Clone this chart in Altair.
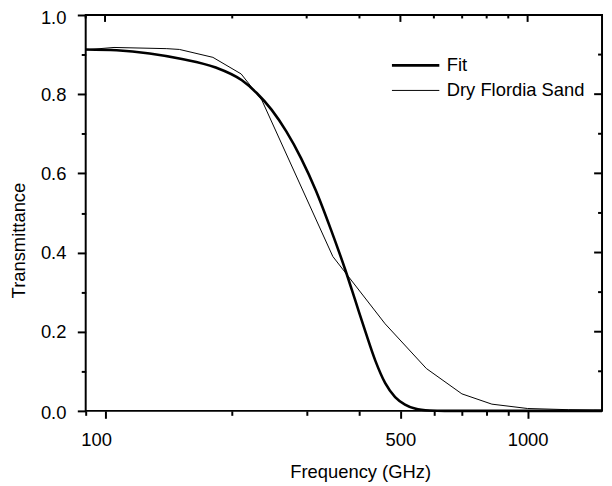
import altair as alt
import pandas as pd

# ---- data ----
fit_freq = [90, 106.5, 127.5, 152, 182, 210.8, 228.5, 247.7, 268.5, 291.1, 315.6,
            342.1, 370.9, 391.5, 413.2, 436.1, 460.3, 485.8, 512.7, 541.1, 586.7,
            636, 800, 1000, 1500]
fit_trans = [0.913, 0.911, 0.903, 0.889, 0.868, 0.835, 0.803, 0.761, 0.706, 0.638,
             0.556, 0.459, 0.354, 0.277, 0.200, 0.127, 0.070, 0.035, 0.016, 0.006,
             0.001, 0.0, 0.0, 0.0, 0.0]
sand_freq = [90, 105, 140, 150, 180, 210, 235, 346, 460, 576, 699, 823, 1000, 1250, 1500]
sand_trans = [0.912, 0.918, 0.915, 0.913, 0.893, 0.851, 0.785, 0.390, 0.220, 0.107,
              0.043, 0.017, 0.006, 0.003, 0.002]

series_names = ["Fit", "Dry Flordia Sand"]

x_major = [100, 500, 1000]
x_minor = [90, 200, 300, 400, 600, 700, 800, 900]
y_major = [0.0, 0.2, 0.4, 0.6, 0.8, 1.0]
y_minor = [0.1, 0.3, 0.5, 0.7, 0.9]

# ---- tables ----
fit_df = pd.DataFrame({"f": fit_freq, "T": fit_trans, "series": series_names[0]})
sand_df = pd.DataFrame({"f": sand_freq, "T": sand_trans, "series": series_names[1]})
xmaj_df = pd.DataFrame({"f": x_major})
xmin_df = pd.DataFrame({"f": x_minor})
ymaj_df = pd.DataFrame({"T": y_major})
ymin_df = pd.DataFrame({"T": y_minor})

W, H = 523, 401
FONT = "Liberation Sans"
FS = 18.6

xscale = alt.Scale(type="log", domain=[90, 1500], nice=False)
yscale = alt.Scale(domain=[0, 1], nice=False)

x_axis = alt.Axis(
    values=x_major + x_minor,
    labelExpr="datum.value == 100 ? '100' : datum.value == 500 ? '500' : datum.value == 1000 ? '1000' : ''",
    tickSize={"condition": {"test": "indexof([100,500,1000], datum.value) >= 0", "value": 7.5}, "value": 4.5},
    labelOffset={"condition": {"test": "datum.value == 100", "value": -9}, "value": 0},
    labelPadding=12.5,
    labelOverlap=False,
    labelFlush=False,
    domain=False,
    grid=False,
    tickWidth=2,
    tickColor="black",
    labelColor="black",
    labelFont=FONT,
    labelFontSize=FS,
    title="Frequency (GHz)",
    titleFont=FONT,
    titleFontSize=FS,
    titleFontWeight="normal",
    titleColor="black",
    titleX=278,
    titleY=67.5,
    titleAlign="center",
    titleBaseline="alphabetic",
)

y_axis = alt.Axis(
    values=y_major + y_minor,
    labelExpr="indexof([0,0.2,0.4,0.6,0.8,1], datum.value) >= 0 ? format(datum.value, '.1f') : ''",
    tickSize={"condition": {"test": "indexof([0,0.2,0.4,0.6,0.8,1], datum.value) >= 0", "value": 8.5}, "value": 4.5},
    labelOffset={"condition": [{"test": "datum.value == 1", "value": 3},
                               {"test": "datum.value == 0", "value": 2}], "value": 0},
    labelPadding=11.5,
    labelOverlap=False,
    labelFlush=False,
    domain=False,
    grid=False,
    tickWidth=2,
    tickColor="black",
    labelColor="black",
    labelFont=FONT,
    labelFontSize=FS,
    title="Transmittance",
    titleFont=FONT,
    titleFontSize=FS,
    titleFontWeight="normal",
    titleColor="black",
    titleAngle=270,
    titleX=-62,
    titleY=228,
    titleAlign="center",
    titleBaseline="alphabetic",
)

sw_scale = alt.Scale(domain=series_names, range=[2.6, 1.0])
legend = alt.Legend(
    orient="none",
    legendX=308.7,
    legendY=41.5,
    title=None,
    symbolType="stroke",
    symbolSize=2304,
    symbolStrokeColor="black",
    labelFont=FONT,
    labelFontSize=FS,
    labelColor="black",
    labelOffset=6,
    clipHeight=19,
    rowPadding=5.4,
    padding=0,
)

X = alt.X("f:Q", scale=xscale, axis=x_axis)
Y = alt.Y("T:Q", scale=yscale, axis=y_axis)

fit_line = alt.Chart(fit_df).mark_line(color="black", interpolate="monotone").encode(
    x=X, y=Y,
    strokeWidth=alt.StrokeWidth("series:N", scale=sw_scale, legend=legend),
)

sand_line = alt.Chart(sand_df).mark_line(color="black").encode(
    x=X, y=Y,
    strokeWidth=alt.StrokeWidth("series:N", scale=sw_scale, legend=legend),
)

# mirrored inward ticks on top and right edges
top_major = alt.Chart(xmaj_df).mark_rule(color="black", strokeWidth=2).encode(
    x=X, y=alt.value(0), y2=alt.value(7)
)
top_minor = alt.Chart(xmin_df).mark_rule(color="black", strokeWidth=2).encode(
    x=X, y=alt.value(0), y2=alt.value(3.5)
)
right_major = alt.Chart(ymaj_df).mark_rule(color="black", strokeWidth=2).encode(
    y=Y, x=alt.value(W), x2=alt.value(W - 8)
)
right_minor = alt.Chart(ymin_df).mark_rule(color="black", strokeWidth=2).encode(
    y=Y, x=alt.value(W), x2=alt.value(W - 4)
)

chart = alt.layer(
    fit_line, sand_line, top_major, top_minor, right_major, right_minor
).properties(
    width=W,
    height=H,
    autosize=alt.AutoSizeParams(type="none"),
    padding={"left": 78.7, "top": 4, "right": 2, "bottom": 73},
).configure(
    background="white",
    view=alt.ViewConfig(stroke="black", strokeWidth=2),
)

chart.save("out.html", embed_options={"renderer": "svg", "actions": False})
